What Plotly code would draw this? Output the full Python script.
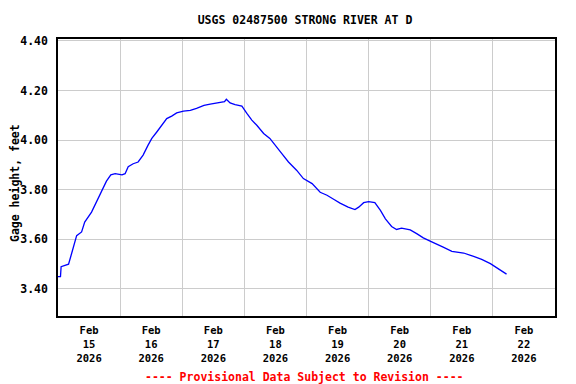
import pandas as pd
import plotly.graph_objects as go

# Elapsed time since 2026-02-15 00:00 (days) and gage height (feet)
days = [0.00, 0.04, 0.05, 0.10, 0.17, 0.21, 0.25, 0.30, 0.38, 0.43, 0.54, 0.62, 0.70, 0.78,
        0.85, 0.92, 1.03, 1.08, 1.13, 1.21, 1.29, 1.37, 1.45, 1.51, 1.59, 1.67, 1.75, 1.83,
        1.91, 2.02, 2.13, 2.23, 2.35, 2.45, 2.60, 2.68, 2.71, 2.77, 2.85, 2.96, 3.04, 3.12,
        3.20, 3.31, 3.41, 3.49, 3.60, 3.71, 3.84, 3.95, 4.09, 4.22, 4.33, 4.45, 4.54, 4.67,
        4.78, 4.84, 4.92, 5.00, 5.10, 5.19, 5.27, 5.37, 5.45, 5.53, 5.67, 5.78, 5.88, 5.99,
        6.10, 6.20, 6.34, 6.53, 6.69, 6.82, 6.96, 7.09, 7.22]
gage = [3.450, 3.450, 3.490, 3.495, 3.500, 3.535, 3.570, 3.615, 3.630, 3.670, 3.710, 3.750,
        3.795, 3.835, 3.860, 3.865, 3.860, 3.865, 3.893, 3.905, 3.912, 3.940, 3.980, 4.007,
        4.033, 4.060, 4.087, 4.097, 4.110, 4.117, 4.120, 4.128, 4.140, 4.145, 4.150, 4.155,
        4.165, 4.150, 4.143, 4.137, 4.108, 4.081, 4.060, 4.027, 4.007, 3.980, 3.947, 3.912,
        3.879, 3.845, 3.825, 3.790, 3.778, 3.760, 3.746, 3.730, 3.720, 3.730, 3.748, 3.752,
        3.748, 3.717, 3.683, 3.652, 3.640, 3.645, 3.638, 3.622, 3.606, 3.593, 3.582, 3.569,
        3.552, 3.545, 3.531, 3.519, 3.502, 3.482, 3.460]

start = pd.Timestamp("2026-02-15 00:00")
times = [start + pd.Timedelta(days=d) for d in days]

label_days = ["2026-02-15", "2026-02-16", "2026-02-17", "2026-02-18",
              "2026-02-19", "2026-02-20", "2026-02-21", "2026-02-22"]
label_text = ["Feb<br>15<br>2026", "Feb<br>16<br>2026", "Feb<br>17<br>2026", "Feb<br>18<br>2026",
              "Feb<br>19<br>2026", "Feb<br>20<br>2026", "Feb<br>21<br>2026", "Feb<br>22<br>2026"]
label_pos = [pd.Timestamp(d) + pd.Timedelta(hours=12) for d in label_days]

y_ticks = [3.40, 3.60, 3.80, 4.00, 4.20, 4.40]
y_text = ["3.40", "3.60", "3.80", "4.00", "4.20", "4.40"]

FONT = "DejaVu Sans Mono"

fig = go.Figure()
fig.add_trace(go.Scatter(x=times, y=gage, mode="lines",
                         line=dict(color="#0000ff", width=1.3), showlegend=False))

# The page body has an 8px margin, so the figure is made 8px smaller and its margins reduced.
W, H = 568, 376
L, R, T, B = 50, 21, 31, 68
PW, PH = W - L - R, H - T - B
fig.update_layout(
    width=W, height=H,
    margin=dict(l=L, r=R, t=T, b=B, autoexpand=False),
    paper_bgcolor="white", plot_bgcolor="white",
    font=dict(family=FONT, size=11, color="black"),
    title=dict(text="<b>USGS 02487500 STRONG RIVER AT D</b>", x=297 / W, xanchor="center",
               y=1 - 12 / H, yanchor="middle", automargin=False,
               font=dict(family=FONT, size=11.5, color="black")),
    xaxis=dict(
        automargin=False,
        range=[pd.Timestamp("2026-02-15"), pd.Timestamp("2026-02-23")],
        tickmode="array", tickvals=label_pos,
        ticktext=["<b>" + t.replace("<br>", "</b><br><b>") + "</b>" for t in label_text],
        showgrid=False, ticks="outside", ticklen=4, tickcolor="rgba(0,0,0,0)", zeroline=False,
        showline=True, linecolor="black", linewidth=1.5, mirror=True,
        minor=dict(tick0="2026-02-15", dtick=86400000, showgrid=True,
                   gridcolor="#cccccc", gridwidth=1, ticks=""),
        tickfont=dict(family=FONT, size=10.5, color="black"),
    ),
    yaxis=dict(
        automargin=False,
        range=[3.291, 4.408],
        tickmode="array", tickvals=y_ticks, ticktext=["<b>" + t + "</b>" for t in y_text],
        showgrid=True, gridcolor="#cccccc", gridwidth=1, zeroline=False,
        ticks="outside", ticklen=6, tickcolor="rgba(0,0,0,0)",
        showline=True, linecolor="black", linewidth=1.5, mirror=True,
        tickfont=dict(family=FONT, size=11.5, color="black"),
    ),
    annotations=[
        dict(text="<b>Gage height, feet</b>", textangle=-90,
             xref="paper", yref="paper", x=(7 - L) / PW, y=1 - (175 - T) / PH,
             xanchor="center", yanchor="middle", showarrow=False,
             font=dict(family=FONT, size=11.5, color="black")),
        dict(text="<b>---- Provisional Data Subject to Revision ----</b>",
             xref="paper", yref="paper", x=0.496, y=-(376.8 - 316) / PH,
             xanchor="center", yanchor="middle", showarrow=False,
             font=dict(family=FONT, size=11.5, color="#ff0000")),
    ],
)

fig.write_html("out.html")
